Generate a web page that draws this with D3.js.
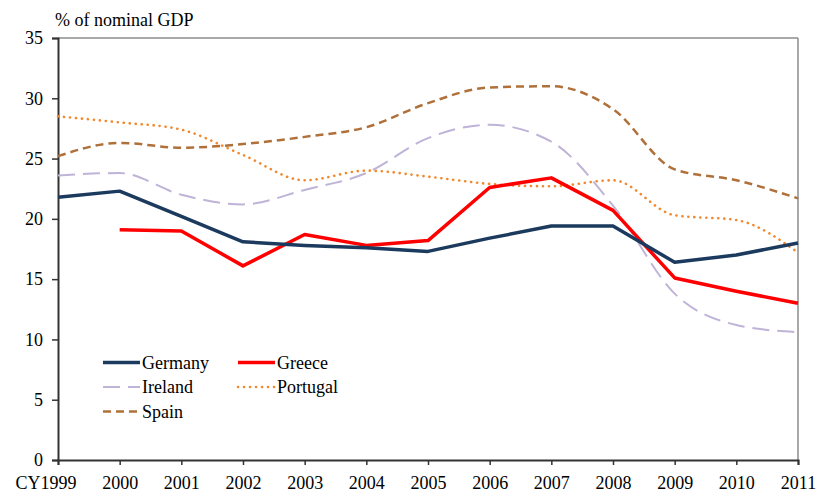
<!DOCTYPE html>
<html>
<head>
<meta charset="utf-8">
<script src="https://cdn.jsdelivr.net/npm/d3@7/dist/d3.min.js"></script>
<style>
  html, body { margin: 0; padding: 0; background: #fff; }
  text { font-family: "Liberation Serif", "Times New Roman", serif; fill: #000; }
</style>
</head>
<body>
<svg id="chart" width="818" height="500"></svg>
<script>
const years = [1999, 2000, 2001, 2002, 2003, 2004, 2005, 2006, 2007, 2008, 2009, 2010, 2011];
const yearLabels = ["CY1999", "2000", "2001", "2002", "2003", "2004", "2005", "2006", "2007", "2008", "2009", "2010", "2011"];
const yTicks = [0, 5, 10, 15, 20, 25, 30, 35];

const germany  = [21.8, 22.3, 20.2, 18.1, 17.8, 17.6, 17.3, 18.4, 19.4, 19.4, 16.4, 17.0, 18.0];
const greece   = [null, 19.1, 19.0, 16.1, 18.7, 17.8, 18.2, 22.6, 23.4, 20.7, 15.1, 14.0, 13.0];
const ireland  = [23.6, 23.8, 22.0, 21.2, 22.4, 23.8, 26.7, 27.8, 26.4, 21.1, 13.8, 11.2, 10.6];
const portugal = [28.5, 28.0, 27.4, 25.3, 23.2, 24.0, 23.5, 22.9, 22.7, 23.2, 20.3, 19.9, 17.2];
const spain    = [25.2, 26.3, 25.9, 26.2, 26.8, 27.6, 29.6, 30.9, 31.0, 29.1, 24.1, 23.2, 21.7];

const seriesNames = ["Germany", "Greece", "Ireland", "Portugal", "Spain"];
const seriesValues = [germany, greece, ireland, portugal, spain];

const styles = {
  Germany:  { color: "#1b3a5e", width: 3.5, dash: null, smooth: false, cap: "butt" },
  Greece:   { color: "#ff0000", width: 3.5, dash: null, smooth: false, cap: "butt" },
  Ireland:  { color: "#bfb3d8", width: 2,   dash: "17,8", smooth: true, cap: "butt" },
  Portugal: { color: "#f2892e", width: 2.6, dash: "0.1,5.9", smooth: true, cap: "round" },
  Spain:    { color: "#b0703a", width: 2.5, dash: "8,5", smooth: true, cap: "butt" }
};

const svg = d3.select("#chart");
const margin = { left: 58, right: 20, top: 38, bottom: 40 };
const W = 818, H = 500;
const x = d3.scaleLinear().domain([1999, 2011]).range([margin.left, W - margin.right]);
const y = d3.scaleLinear().domain([0, 35]).range([H - margin.bottom, margin.top]);

// frame top & right
svg.append("line").attr("x1", x(1999)).attr("x2", x(2011)).attr("y1", y(35)).attr("y2", y(35))
  .attr("stroke", "#8c8c8c").attr("stroke-width", 1.5);
svg.append("line").attr("x1", x(2011)).attr("x2", x(2011)).attr("y1", y(35)).attr("y2", y(0))
  .attr("stroke", "#8c8c8c").attr("stroke-width", 1.5);

// y axis
const yAxis = svg.append("g").attr("transform", `translate(${margin.left},0)`)
  .call(d3.axisLeft(y).tickValues(yTicks).tickSize(6).tickPadding(9).tickFormat(d3.format("d")));
yAxis.select(".domain").attr("stroke", "#333").attr("stroke-width", 2);
yAxis.selectAll(".tick line").attr("stroke", "#333").attr("stroke-width", 1.5);
yAxis.selectAll("text").style("font-size", "18px").style("font-family", "Liberation Serif");

// x axis
const xAxis = svg.append("g").attr("transform", `translate(0,${y(0)})`)
  .call(d3.axisBottom(x).tickValues(years).tickSize(5).tickPadding(11)
    .tickFormat((d, i) => yearLabels[i]));
xAxis.select(".domain").attr("stroke", "#333").attr("stroke-width", 2);
xAxis.selectAll(".tick line").attr("stroke", "#333").attr("stroke-width", 1.5);
xAxis.selectAll("text").style("font-size", "18px").style("font-family", "Liberation Serif");
xAxis.selectAll(".tick").filter((d, i) => i === 0).select("text")
  .attr("text-anchor", "end").attr("dx", 18);

// title
svg.append("text").attr("x", 55).attr("y", 26).style("font-size", "18px").text("% of nominal GDP");

// lines
const drawOrder = ["Spain", "Portugal", "Ireland", "Greece", "Germany"];
drawOrder.forEach(name => {
  const vals = seriesValues[seriesNames.indexOf(name)];
  const st = styles[name];
  const data = years.map((yr, i) => ({ yr, v: vals[i] }));
  const line = d3.line()
    .defined(d => d.v !== null)
    .x(d => x(d.yr)).y(d => y(d.v))
    .curve(st.smooth ? d3.curveMonotoneX : d3.curveLinear);
  svg.append("path").datum(data).attr("d", line)
    .attr("fill", "none").attr("stroke", st.color).attr("stroke-width", st.width)
    .attr("stroke-dasharray", st.dash).attr("stroke-linejoin", "round")
    .attr("stroke-linecap", st.cap);
});

// legend
const legendPos = [
  { name: "Germany", x: 103, y: 362.5 },
  { name: "Greece", x: 238, y: 362.5 },
  { name: "Ireland", x: 103, y: 387 },
  { name: "Portugal", x: 238, y: 387 },
  { name: "Spain", x: 103, y: 411.5 }
];
legendPos.forEach(p => {
  const st = styles[p.name];
  svg.append("line").attr("x1", p.x).attr("x2", p.x + 37).attr("y1", p.y).attr("y2", p.y)
    .attr("stroke", st.color).attr("stroke-width", st.width).attr("stroke-dasharray", st.dash)
    .attr("stroke-linecap", st.cap);
  svg.append("text").attr("x", p.x + 39).attr("y", p.y + 6).style("font-size", "18px").text(p.name);
});
</script>
</body>
</html>
